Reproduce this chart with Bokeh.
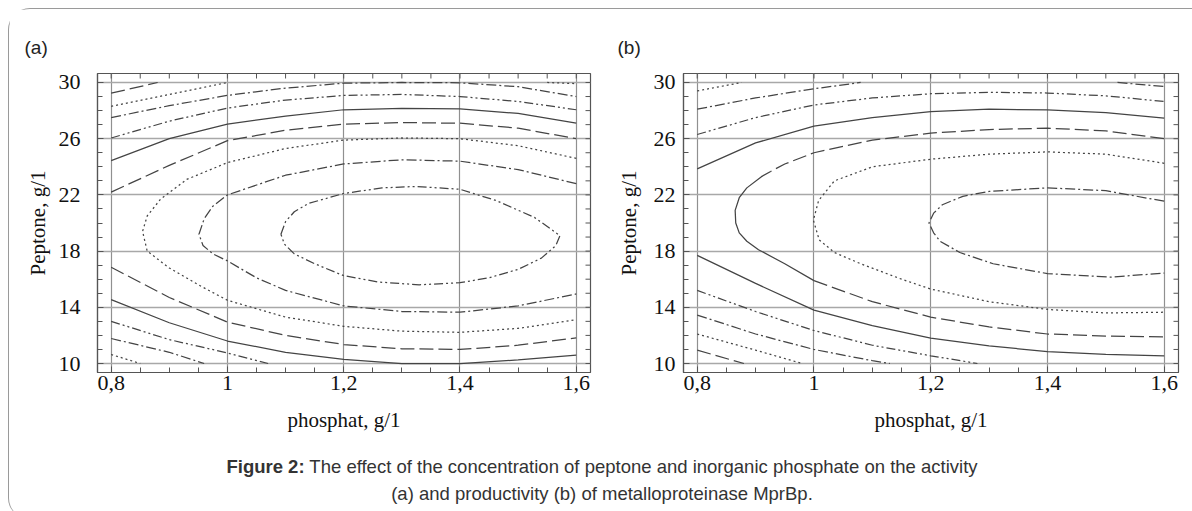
import math
from bokeh.plotting import figure
from bokeh.layouts import column, row
from bokeh.models import Range1d, FixedTicker, Div, GlobalInlineStyleSheet
from bokeh.embed import file_html
from bokeh.resources import INLINE

# ---------------- axes / ticks ----------------
X_RANGE = (0.7765, 1.6245)
Y_RANGE = (9.36, 30.64)
X_TICKS = [0.8, 1, 1.2, 1.4, 1.6]
X_TICK_LABELS = ["0,8", "1", "1,2", "1,4", "1,6"]
X_MINOR_TICKS = [0.8, 0.85, 0.9, 0.95, 1.0, 1.05, 1.1, 1.15, 1.2, 1.25, 1.3,
                 1.35, 1.4, 1.45, 1.5, 1.55, 1.6]
Y_TICKS = [10, 14, 18, 22, 26, 30]
Y_TICK_LABELS = ["10", "14", "18", "22", "26", "30"]
Y_MINOR_TICKS = [10, 11, 12, 13, 14, 15, 16, 17, 18, 19, 20, 21, 22, 23, 24,
                 25, 26, 27, 28, 29, 30]
X_LABEL = "phosphat, g/1"
Y_LABEL = "Peptone, g/1"

# ---------------- panel (a): contour lines ----------------
A1_X = [1.092, 1.100, 1.115, 1.140, 1.200, 1.266, 1.325, 1.400, 1.462, 1.528, 1.572,
        1.565, 1.540, 1.500, 1.450, 1.400, 1.330, 1.260, 1.200, 1.150, 1.115, 1.098, 1.092]
A1_Y = [19.2, 20.1, 20.8, 21.4, 22.1, 22.5, 22.6, 22.4, 21.6, 20.4, 19.1,
        18.4, 17.5, 16.7, 16.1, 15.75, 15.6, 15.8, 16.25, 17.1, 17.8, 18.5, 19.2]
A2_X = [1.600, 1.500, 1.400, 1.300, 1.200, 1.100, 1.000, 0.975, 0.960, 0.951,
        0.958, 0.975, 1.000, 1.050, 1.100, 1.200, 1.300, 1.400, 1.500, 1.600]
A2_Y = [22.8, 23.8, 24.4, 24.5, 24.2, 23.4, 22.0, 21.2, 20.3, 19.2,
        18.4, 17.8, 17.3, 16.1, 15.2, 14.1, 13.7, 13.65, 14.1, 14.95]
A3_X = [1.600, 1.500, 1.400, 1.300, 1.200, 1.100, 1.000, 0.930, 0.885, 0.862, 0.854,
        0.862, 0.900, 0.950, 1.000, 1.100, 1.200, 1.300, 1.400, 1.500, 1.600]
A3_Y = [24.6, 25.5, 26.0, 26.05, 25.9, 25.3, 24.3, 23.1, 21.7, 20.5, 19.4,
        18.0, 16.8, 15.6, 14.5, 13.3, 12.65, 12.3, 12.22, 12.5, 13.12]
A_GRID_X = [0.8, 0.9, 1.0, 1.1, 1.2, 1.3, 1.4, 1.5, 1.6]
A4_TOP_Y = [22.2, 24.1, 25.86, 26.6, 27.04, 27.15, 27.1, 26.75, 26.0]
A4_BOT_Y = [16.85, 14.7, 12.95, 12.0, 11.35, 11.05, 11.0, 11.3, 11.82]
A5_TOP_Y = [24.44, 26.0, 27.04, 27.6, 28.06, 28.15, 28.13, 27.8, 27.1]
A5_BOT_Y = [14.55, 12.9, 11.6, 10.8, 10.3, 10.0, 10.0, 10.25, 10.6]
A6_TOP_Y = [26.05, 27.25, 28.18, 28.75, 29.08, 29.15, 29.0, 28.65, 28.06]
A6_BOT_X = [0.8, 0.9, 1.0, 1.07]
A6_BOT_Y = [13.0, 11.7, 10.75, 10.0]
A7_TOP_Y = [27.5, 28.35, 29.08, 29.6, 29.95, 30.0, 29.98, 29.7, 29.0]
A7_BOT_X = [0.8, 0.9, 0.96]
A7_BOT_Y = [11.78, 10.8, 10.0]
A8_TL_X = [0.8, 0.9, 1.0]
A8_TL_Y = [28.3, 29.15, 30.0]
A8_TR_X = [1.55, 1.6]
A8_TR_Y = [30.0, 29.92]
A8_BOT_X = [0.8, 0.85]
A8_BOT_Y = [10.64, 10.0]
A9_X = [0.8, 0.88]
A9_Y = [29.24, 30.0]

# ---------------- panel (b): contour lines ----------------
B1_X = [1.600, 1.500, 1.400, 1.300, 1.255, 1.220, 1.205, 1.197, 1.205, 1.216, 1.250,
        1.307, 1.400, 1.508, 1.600]
B1_Y = [21.55, 22.3, 22.5, 22.25, 21.9, 21.3, 20.7, 20.0, 19.3, 18.7, 17.9,
        17.1, 16.4, 16.15, 16.43]
B2_X = [1.600, 1.500, 1.400, 1.300, 1.200, 1.100, 1.035, 1.008, 0.999, 1.009, 1.035,
        1.080, 1.150, 1.200, 1.300, 1.400, 1.500, 1.600]
B2_Y = [24.25, 24.9, 25.06, 24.9, 24.54, 24.0, 23.0, 21.6, 20.2, 18.8, 17.9,
        17.1, 16.0, 15.3, 14.4, 13.85, 13.6, 13.65]
# long-dash contour: upper branch, the (solid looking) bend, lower branch
B3_UP_X = [1.600, 1.500, 1.400, 1.300, 1.200, 1.100, 1.000, 0.950, 0.925]
B3_UP_Y = [26.0, 26.55, 26.75, 26.65, 26.4, 25.9, 25.0, 24.2, 23.65]
B3_BEND_X = [0.925, 0.910, 0.885, 0.872, 0.865, 0.866, 0.872, 0.885, 0.905, 0.950, 1.000]
B3_BEND_Y = [23.65, 23.3, 22.5, 21.8, 20.9, 20.0, 19.3, 18.7, 18.1, 17.1, 15.9]
B3_LOW_X = [1.000, 1.100, 1.200, 1.300, 1.400, 1.500, 1.600]
B3_LOW_Y = [15.9, 14.4, 13.3, 12.6, 12.1, 11.95, 11.9]
B_GRID_X = [0.8, 0.9, 1.0, 1.1, 1.2, 1.3, 1.4, 1.5, 1.6]
B4_TOP_Y = [23.85, 25.7, 26.9, 27.5, 27.93, 28.1, 28.05, 27.85, 27.46]
B4_BOT_Y = [17.7, 15.7, 13.8, 12.7, 11.8, 11.25, 10.85, 10.65, 10.55]
B5_TOP_Y = [26.3, 27.5, 28.4, 28.9, 29.2, 29.3, 29.25, 29.05, 28.65]
B5_BOT_X = [0.8, 0.9, 1.0, 1.1, 1.2, 1.28]
B5_BOT_Y = [15.2, 13.7, 12.35, 11.3, 10.55, 10.0]
B6_TL_X = [0.8, 0.9, 1.0, 1.08]
B6_TL_Y = [28.1, 28.9, 29.55, 30.0]
B6_TR_X = [1.52, 1.6]
B6_TR_Y = [30.0, 29.72]
B6_BOT_X = [0.8, 0.9, 1.0, 1.1, 1.13]
B6_BOT_Y = [13.45, 12.1, 11.0, 10.2, 10.0]
B7_TOP_X = [0.8, 0.876]
B7_TOP_Y = [29.4, 30.0]
B7_BOT_X = [0.8, 0.9, 0.98]
B7_BOT_Y = [12.1, 10.95, 10.0]
B8_BOT_X = [0.8, 0.88]
B8_BOT_Y = [10.95, 10.0]

CONTOURS_A = [
    ("ddd", A1_X, A1_Y), ("dd", A2_X, A2_Y), ("dot", A3_X, A3_Y),
    ("dash", A_GRID_X, A4_TOP_Y), ("dash", A_GRID_X, A4_BOT_Y),
    ("solid", A_GRID_X, A5_TOP_Y), ("solid", A_GRID_X, A5_BOT_Y),
    ("ddd", A_GRID_X, A6_TOP_Y), ("ddd", A6_BOT_X, A6_BOT_Y),
    ("dd", A_GRID_X, A7_TOP_Y), ("dd", A7_BOT_X, A7_BOT_Y),
    ("dot", A8_TL_X, A8_TL_Y), ("dot", A8_TR_X, A8_TR_Y), ("dot", A8_BOT_X, A8_BOT_Y),
    ("dash", A9_X, A9_Y),
]
CONTOURS_B = [
    ("dd", B1_X, B1_Y), ("dot", B2_X, B2_Y),
    ("dash", B3_UP_X, B3_UP_Y), ("solid", B3_BEND_X, B3_BEND_Y), ("dash", B3_LOW_X, B3_LOW_Y),
    ("solid", B_GRID_X, B4_TOP_Y), ("solid", B_GRID_X, B4_BOT_Y),
    ("ddd", B_GRID_X, B5_TOP_Y), ("ddd", B5_BOT_X, B5_BOT_Y),
    ("dd", B6_TL_X, B6_TL_Y), ("dd", B6_TR_X, B6_TR_Y), ("dd", B6_BOT_X, B6_BOT_Y),
    ("dot", B7_TOP_X, B7_TOP_Y), ("dot", B7_BOT_X, B7_BOT_Y),
    ("dash", B8_BOT_X, B8_BOT_Y),
]

DASHES = {"solid": "solid", "dash": "14 5", "dot": "2 3",
          "dd": "10 3 2 3", "ddd": "9 3 2 3 2 3"}

SERIF = "Liberation Serif"
SANS = "Liberation Sans"
FRAME = "#555555"
LINE = "#444444"


def style_axis(ax, ticker, tick_standoff, label_standoff):
    ax.ticker = ticker
    ax.axis_line_color = FRAME
    ax.axis_line_width = 1.2
    ax.major_tick_in = 6
    ax.major_tick_out = 0
    ax.minor_tick_in = 5
    ax.minor_tick_out = 0
    ax.major_tick_line_color = FRAME
    ax.minor_tick_line_color = FRAME
    ax.major_label_standoff = tick_standoff
    ax.major_label_text_font = SERIF
    ax.major_label_text_font_size = "22px"
    ax.major_label_text_color = "#111111"
    ax.axis_label_text_font = SERIF
    ax.axis_label_text_font_size = "21px"
    ax.axis_label_text_font_style = "normal"
    ax.axis_label_text_color = "#111111"
    ax.axis_label_standoff = label_standoff


def make_panel(tag, contours, width, mbl, mbr, title_offset, ytick_standoff, ylabel_standoff):
    p = figure(width=width, height=431, title=tag,
               x_range=Range1d(*X_RANGE), y_range=Range1d(*Y_RANGE),
               output_backend="svg", toolbar_location=None,
               min_border_left=mbl, min_border_right=mbr,
               min_border_top=64, min_border_bottom=68,
               x_axis_label=X_LABEL, y_axis_label=Y_LABEL)
    p.title.text_font = SANS
    p.title.text_font_size = "19px"
    p.title.text_font_style = "normal"
    p.title.text_color = "#222222"
    p.title.align = "left"
    p.title.offset = title_offset
    p.title.standoff = 31
    p.outline_line_color = FRAME
    p.outline_line_width = 1.2
    p.background_fill_color = "white"
    p.border_fill_color = "white"

    xt = FixedTicker(ticks=X_TICKS, minor_ticks=X_MINOR_TICKS)
    yt = FixedTicker(ticks=Y_TICKS, minor_ticks=Y_MINOR_TICKS)

    bottom_ax = p.below[0]
    left_ax = p.left[0]
    style_axis(bottom_ax, xt, 3, 15)
    style_axis(left_ax, yt, ytick_standoff, ylabel_standoff)
    bottom_ax.major_label_overrides = dict(zip(X_TICKS, X_TICK_LABELS))
    left_ax.major_label_overrides = dict(zip(Y_TICKS, Y_TICK_LABELS))

    p.xgrid.ticker = xt
    p.ygrid.ticker = yt
    p.xgrid.grid_line_color = "#909090"
    p.xgrid.grid_line_width = 1.2
    p.ygrid.grid_line_color = "#a8a8a8"
    p.ygrid.grid_line_width = 1.5

    # inward ticks along the top and right edges of the frame
    p.scatter(x=X_MINOR_TICKS, y=[Y_RANGE[1]] * len(X_MINOR_TICKS), marker="dash",
              angle=math.pi / 2, size=10, line_color=FRAME, line_width=1)
    p.scatter(x=[X_RANGE[1]] * len(Y_MINOR_TICKS), y=Y_MINOR_TICKS, marker="dash",
              size=10, line_color=FRAME, line_width=1)

    for style, xs, ys in contours:
        p.line(x=xs, y=ys, line_color=LINE, line_width=1.25, line_dash=DASHES[style])
    return p


pa = make_panel("(a)", CONTOURS_A, 603, 88, 22, -73, 17, 6)
pb = make_panel("(b)", CONTOURS_B, 580, 71, 14, -66, 8, 10)

CAPTION_BOLD = "Figure 2:"
CAPTION_LINE1 = " The effect of the concentration of peptone and inorganic phosphate on the activity"
CAPTION_LINE2 = "(a) and productivity (b) of metalloproteinase MprBp."

cap = Div(
    text=('<div style="width:1166px; padding-top:13px; padding-left:20px; text-align:center; '
          'font-family:\'Liberation Sans\', Arial, sans-serif; font-size:18.5px; '
          'line-height:27px; color:#333333; white-space:nowrap;">'
          f'<b>{CAPTION_BOLD}</b>{CAPTION_LINE1}<br>{CAPTION_LINE2}</div>'),
    width=1183, height=78, margin=(0, 0, 0, 0))

root = column(
    row(pa, pb, spacing=0),
    cap,
    spacing=0,
    margin=(8, 0, 0, 8),
    styles={"border-top": "1px solid #9a9a9a", "border-left": "1px solid #9a9a9a",
            "border-top-left-radius": "22px", "border-bottom-left-radius": "20px",
            "background": "white"},
    stylesheets=[GlobalInlineStyleSheet(
        css="html, body {margin:0; padding:0; overflow:hidden; background:#ffffff;}")],
)

open("out.html", "w").write(file_html(root, INLINE))
